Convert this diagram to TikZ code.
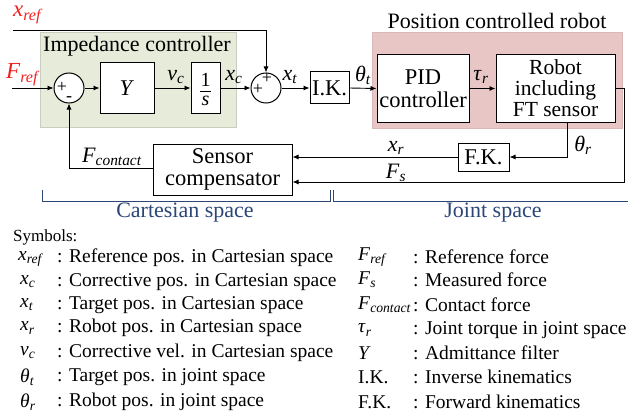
\documentclass[tikz,border=0pt]{standalone}
\usepackage{fontspec}
\setmainfont{Liberation Serif}
\usetikzlibrary{arrows.meta}
\newcommand{\vsym}[2]{\textit{#1}\textsubscript{\textit{#2}}}
\definecolor{greenbg}{HTML}{E6EBDA}
\definecolor{greenbd}{HTML}{C9CDBF}
\definecolor{pinkbg}{HTML}{E8C6C6}
\definecolor{pinkbd}{HTML}{D9B8B8}
\definecolor{navy}{HTML}{2B4677}
\definecolor{refred}{HTML}{F02020}
\begin{document}
\begin{tikzpicture}[x=1pt,y=-1pt,
  blk/.style={draw,line width=1pt,fill=white,inner sep=0pt,align=center,font=\fontsize{22.5}{22}\selectfont},
  sumc/.style={draw,circle,line width=1pt,minimum size=30pt,inner sep=0pt,fill=white},
  sig/.style={line width=0.9pt},
  arr/.style={sig,-{Latex[length=6pt,width=5pt]}},
  lab/.style={inner sep=0pt,font=\fontsize{22}{22}\selectfont},
  sgn/.style={inner sep=0pt,font=\fontsize{18}{18}\selectfont},
  frac/.style={inner sep=0pt,font=\fontsize{20}{20}\selectfont},
  brk/.style={draw=navy,line width=1pt},
  brklab/.style={inner sep=0pt,text=navy,font=\fontsize{22}{22}\selectfont},
  legsym/.style={anchor=west,inner sep=0pt,font=\fontsize{19.5}{20}\selectfont},
  legtxt/.style={anchor=west,inner sep=0pt,font=\fontsize{19.5}{20}\selectfont},
]
\useasboundingbox (0,0) rectangle (628,417);

% regions
\fill[greenbg,draw=greenbd,line width=1pt] (40,33) rectangle (236,127);
\node[lab] (imptitle) at (137,46) {Impedance controller};
\fill[pinkbg,draw=pinkbd,line width=1pt] (372,33) rectangle (622,128);
\node[lab] (postitle) at (497,21) {Position controlled robot};

% blocks
\node[sumc] (sum1) at (69,88) {};
\node[sgn] (p1) at (62,87) {+};
\node[sgn] (m1) at (69,99) {-};
\node[blk,minimum width=54pt,minimum height=50pt] (Y) at (127,88) {\textit{Y}};
\node[blk,minimum width=29pt,minimum height=50pt] (integ) at (205.5,88) {};
\node[frac] (one) at (205.5,80) {1};
\node[frac] (ess) at (205.5,101) {\textit{s}};
\draw[line width=0.8pt] (200,91) -- (211,91);
\node[sumc] (sum2) at (266,88) {};
\node[sgn] (p2) at (258,89) {+};
\node[sgn] (p3) at (267,78) {+};
\node[blk,minimum width=39pt,minimum height=32pt] (IK) at (329.5,88) {I.K.};
\node[blk,minimum width=92pt,minimum height=67pt] (PID) at (423,88.5) {PID\\[1pt]controller};
\node[blk,minimum width=119pt,minimum height=67pt,font=\fontsize{21.5}{21}\selectfont] (robot) at (555.5,88.5) {Robot\\including\\FT sensor};
\node[blk,minimum width=51pt,minimum height=28pt] (FK) at (483.5,157) {F.K.};
\node[blk,minimum width=139pt,minimum height=51pt] (sc) at (222.5,169.5) {Sensor\\compensator};

% inputs
\coordinate (xr0) at (13,30);
\coordinate (fr0) at (12,88);
\coordinate (rc) at (624,0);
\coordinate (fsy) at (0,182);
\node[lab,text=refred,font=\fontsize{23}{23}\selectfont] (xreflab) at (28,15) {\vsym{x}{ref}};
\node[lab,text=refred,font=\fontsize{23}{23}\selectfont] (freflab) at (23,75) {\vsym{F}{ref}};

% connectors
\draw[arr] (xr0) -| (sum2.north);
\draw[arr] (fr0) -- (sum1.west);
\draw[arr] (sum1.east) -- (Y.west);
\draw[arr] (Y.east) -- (integ.west);
\draw[arr] (integ.east) -- (sum2.west);
\draw[arr] (sum2.east) -- (IK.west);
\draw[arr] (IK.east) -- (PID.west);
\draw[arr] (PID.east) -- (robot.west);
\draw[arr] (robot.east) -| (rc |- fsy) -- (sc.east |- fsy);
\draw[arr] ([xshift=11.5pt]robot.south) |- (FK.east);
\draw[arr] (FK.west) -- (sc.east |- FK.west);
\draw[arr] ([yshift=1.5pt]sc.west) -| (sum1.south);

% signal labels
\node[lab] (vclab) at (176,77) {\vsym{v}{c}};
\node[lab] (xclab) at (234,77) {\vsym{x}{c}};
\node[lab] (xtlab) at (290,77) {\vsym{x}{t}};
\node[lab] (thtlab) at (363,75) {\vsym{θ}{t}};
\node[lab] (taulab) at (481,77) {\vsym{τ}{r}};
\node[lab] (xrlab) at (396,148) {\vsym{x}{r}};
\node[lab] (fslab) at (396,173) {\vsym{F}{s}};
\node[lab] (thrlab) at (583,145) {\vsym{θ}{r}};
\node[lab] (fclab) at (112,157) {\vsym{F}{contact}};

% brackets
\draw[brk] (42,190) -- (42,201) -- (330,201) -- (330,190);
\draw[brk] (333,190) -- (333,201) -- (628,201);
\node[brklab] (cartlab) at (185,213) {Cartesian space};
\node[brklab] (jointlab) at (493,213) {Joint space};

% legend
\node[anchor=west,inner sep=0pt,font=\fontsize{17}{17}\selectfont] (symtitle) at (13,237) {Symbols:};
\node[legsym] (l1s) at (18,259) {\vsym{x}{ref}};
\node[legtxt] (l1t) at (57,258) {: Reference pos. in Cartesian space};
\node[legsym] (l2s) at (20,282) {\vsym{x}{c}};
\node[legtxt] (l2t) at (57,282) {: Corrective pos. in Cartesian space};
\node[legsym] (l3s) at (20,305) {\vsym{x}{t}};
\node[legtxt] (l3t) at (57,305) {: Target pos. in Cartesian space};
\node[legsym] (l4s) at (20,328) {\vsym{x}{r}};
\node[legtxt] (l4t) at (57,328) {: Robot pos. in Cartesian space};
\node[legsym] (l5s) at (20,353) {\vsym{v}{c}};
\node[legtxt] (l5t) at (57,353) {: Corrective vel. in Cartesian space};
\node[legsym] (l6s) at (20,377) {\vsym{θ}{t}};
\node[legtxt] (l6t) at (57,377) {: Target pos. in joint space};
\node[legsym] (l7s) at (20,402) {\vsym{θ}{r}};
\node[legtxt] (l7t) at (57,402) {: Robot pos. in joint space};

\node[legsym] (r1s) at (358,257) {\vsym{F}{ref}};
\node[legtxt] (r1t) at (413,257) {: Reference force};
\node[legsym] (r2s) at (358,280) {\vsym{F}{s}};
\node[legtxt] (r2t) at (413,280) {: Measured force};
\node[legsym] (r3s) at (358,305) {\vsym{F}{contact}};
\node[legtxt] (r3t) at (413,305) {: Contact force};
\node[legsym] (r4s) at (358,330) {\vsym{τ}{r}};
\node[legtxt] (r4t) at (413,330) {: Joint torque in joint space};
\node[legsym] (r5s) at (358,353) {\textit{Y}};
\node[legtxt] (r5t) at (413,353) {: Admittance filter};
\node[legsym] (r6s) at (358,377) {I.K.};
\node[legtxt] (r6t) at (413,377) {: Inverse kinematics};
\node[legsym] (r7s) at (358,402) {F.K.};
\node[legtxt] (r7t) at (413,402) {: Forward kinematics};
\end{tikzpicture}
\end{document}
